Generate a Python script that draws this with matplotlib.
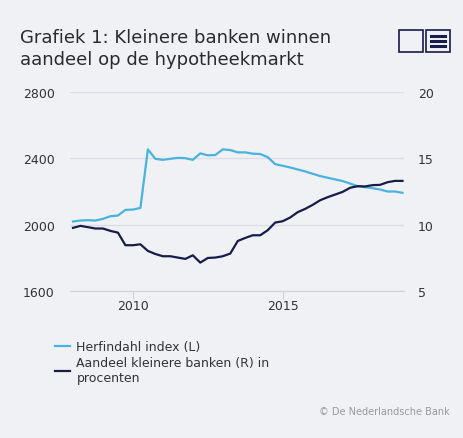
import matplotlib
matplotlib.use('Agg')
import numpy as np
import matplotlib.pyplot as plt
from matplotlib.patches import Rectangle

#--- data (quarterly, 2008Q1 - 2019Q1) ---#
start_year = 2008.0
herfindahl = [2019, 2025, 2027, 2025, 2035, 2051, 2055, 2089, 2091, 2101,
              2454, 2397, 2391, 2397, 2403, 2401, 2391, 2430, 2418, 2420,
              2454, 2450, 2436, 2436, 2428, 2426, 2407, 2365, 2355, 2345,
              2333, 2321, 2307, 2293, 2283, 2273, 2263, 2248, 2232, 2226,
              2220, 2212, 2200, 2200, 2192]
aandeel = [9.76, 9.91, 9.81, 9.71, 9.71, 9.53, 9.40, 8.45, 8.45, 8.52,
           8.02, 7.79, 7.62, 7.62, 7.52, 7.42, 7.69, 7.14, 7.49, 7.52,
           7.62, 7.82, 8.77, 9.00, 9.20, 9.20, 9.58, 10.16, 10.26, 10.54,
           10.94, 11.19, 11.49, 11.84, 12.07, 12.27, 12.47, 12.78, 12.90, 12.88,
           12.98, 13.00, 13.20, 13.30, 13.30]
left_ticks = [1600, 2000, 2400, 2800]
right_ticks = [5, 10, 15, 20]
x_ticks = [2010, 2015]
labels = ["Herfindahl index (L)", "Aandeel kleinere banken (R) in\nprocenten"]
title = "Grafiek 1: Kleinere banken winnen\naandeel op de hypotheekmarkt"

#--- style ---#
bg = '#f0f1f5'
c_light = '#4ab2de'
c_dark = '#171c48'
c_text = '#333333'
c_grid = '#dcdee6'

x = start_year + np.arange(len(herfindahl)) * 0.25

fig = plt.figure(figsize=(4.63, 4.39), dpi=100, facecolor=bg)
ax = fig.add_axes([70/463, 1-292/439, 334/463, 199/439], facecolor=bg)
ax2 = ax.twinx()

l1, = ax.plot(x, herfindahl, color=c_light, lw=1.6)
l2, = ax2.plot(x, aandeel, color=c_dark, lw=1.6)

ax.set_xlim(2008.0 - 0.1, 2019.0 + 0.05)
ax.set_ylim(1600, 2800)
ax2.set_ylim(5, 20)
ax.set_yticks(left_ticks)
ax2.set_yticks(right_ticks)
ax.set_xticks(x_ticks)
ax.set_xticklabels([str(t) for t in x_ticks])
ax.grid(axis='y', color=c_grid, lw=1)
ax.set_axisbelow(True)
for a in (ax, ax2):
    for s in a.spines.values():
        s.set_visible(False)
ax.spines['bottom'].set_visible(True)
ax.spines['bottom'].set_color('#cfd2dc')
ax.tick_params(axis='y', length=0, labelsize=9, labelcolor=c_text, pad=34)
for t in ax.get_yticklabels():
    t.set_horizontalalignment('left')
ax2.tick_params(axis='y', length=0, labelsize=9, labelcolor=c_text, pad=10)
ax.tick_params(axis='x', length=6, color='#cfd2dc', labelsize=9, labelcolor=c_text, pad=0)

#--- title ---#
fig.text(20/463, 1-29/439, title, ha='left', va='top', fontsize=13,
         color='#2b2b2b', linespacing=1.3)

#--- icons ---#
for x0 in (399, 426):
    fig.patches.append(Rectangle((x0/463, 1-53/439), 24/463, 22/439,
                                 transform=fig.transFigure, fill=False,
                                 edgecolor=c_dark, lw=1.2))
for yy in (37, 42, 47):
    fig.add_artist(plt.Line2D([431/463, 445/463], [1-yy/439, 1-yy/439],
                              color=c_dark, lw=2.2, transform=fig.transFigure))

#--- legend ---#
fig.legend([l1, l2], labels, loc='upper left', bbox_to_anchor=(44/463, 1-330/439),
           frameon=False, fontsize=9, handlelength=1.2, handletextpad=0.5,
           labelspacing=0.25, labelcolor=c_text)

fig.text(450/463, 1-412/439, "© De Nederlandsche Bank", ha='right', va='center',
         fontsize=7, color='#999999')

plt.savefig("out.png", dpi=100, facecolor=bg)
